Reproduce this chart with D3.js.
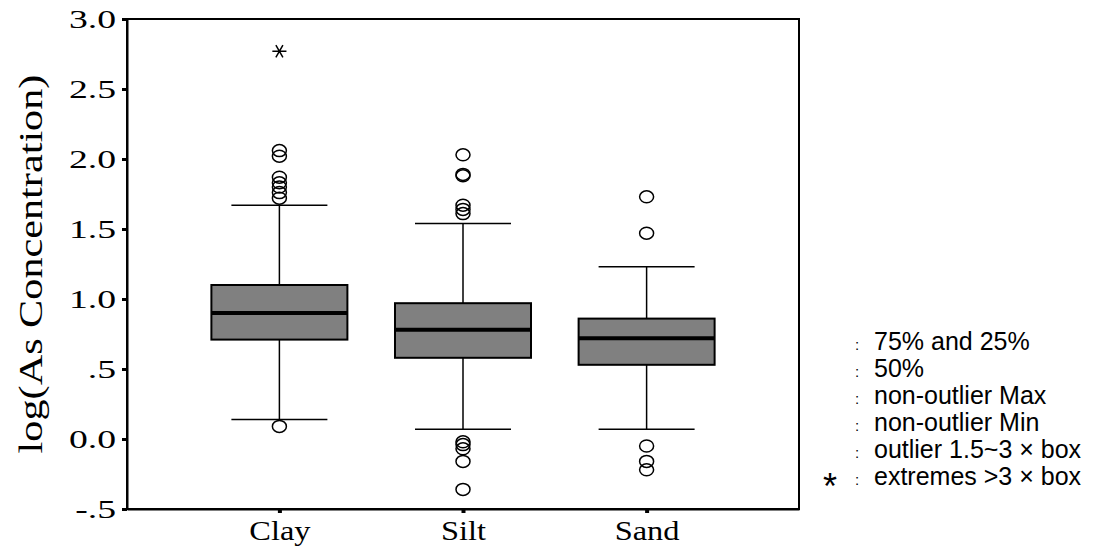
<!DOCTYPE html>
<html>
<head>
<meta charset="utf-8">
<script src="https://cdn.jsdelivr.net/npm/d3@7"></script>
<style>
  body { margin: 0; background: #fff; }
  svg { display: block; }
</style>
</head>
<body>
<svg id="chart" width="1096" height="550"></svg>
<script>
// values
var categories = ["Clay", "Silt", "Sand"];
var q1 = [0.71, 0.58, 0.53];
var median = [0.90, 0.78, 0.72];
var q3 = [1.10, 0.97, 0.86];
var whiskerLow = [0.14, 0.07, 0.07];
var whiskerHigh = [1.67, 1.54, 1.23];
var outliers = [
  [2.06, 2.02, 1.87, 1.83, 1.80, 1.76, 1.72, 0.09],
  [2.03, 1.89, 1.88, 1.67, 1.64, 1.61, -0.02, -0.04, -0.07, -0.16, -0.36],
  [1.73, 1.47, -0.05, -0.16, -0.22]
];
var extremes = [[2.77], [], []];
var yTicks = [3.0, 2.5, 2.0, 1.5, 1.0, 0.5, 0.0, -0.5];
var yTickLabels = ["3.0", "2.5", "2.0", "1.5", "1.0", ".5", "0.0", "-.5"];
var legendLabels = ["75% and 25%", "50%", "non-outlier Max", "non-outlier Min",
                    "outlier 1.5~3 \u00d7 box", "extremes >3 \u00d7 box"];

var plotLeft = 127, plotRight = 799, plotTop = 19, plotBottom = 509;
var boxWidth = 136, capWidth = 96;
var stretch = 1.45;  // the reference tick text is wide

var svg = d3.select("#chart");

var x = d3.scalePoint()
    .domain(categories)
    .range([plotLeft, plotRight])
    .padding(0.83);

var y = d3.scaleLinear()
    .domain([-0.5, 3.0])
    .range([plotBottom, plotTop]);

var serif = "'Liberation Serif', 'Times New Roman', serif";
var sans = "'Liberation Sans', Arial, sans-serif";

// frame
svg.append("rect")
    .attr("x", plotLeft).attr("y", plotTop)
    .attr("width", plotRight - plotLeft).attr("height", plotBottom - plotTop)
    .attr("fill", "none").attr("stroke", "#000").attr("stroke-width", 2);

// y axis
var yAxis = svg.append("g")
    .attr("transform", "translate(" + plotLeft + ",0)")
    .call(d3.axisLeft(y).tickValues(yTicks)
      .tickFormat(function(d, i) { return yTickLabels[i]; })
      .tickSizeInner(5).tickSizeOuter(0));
yAxis.select(".domain").attr("stroke", "#000").attr("stroke-width", 2);
yAxis.selectAll(".tick line").attr("stroke", "#000").attr("stroke-width", 3);
yAxis.selectAll(".tick text")
    .attr("x", -11 / stretch)
    .attr("transform", "scale(" + stretch + ",1)")
    .attr("font-family", serif).attr("font-size", 26).attr("fill", "#000");

// x axis
var xAxis = svg.append("g")
    .attr("transform", "translate(0," + plotBottom + ")")
    .call(d3.axisBottom(x).tickSizeInner(4).tickSizeOuter(0).tickPadding(8));
xAxis.select(".domain").attr("stroke", "#000").attr("stroke-width", 2);
xAxis.selectAll(".tick line").attr("stroke", "#000").attr("stroke-width", 4);
xAxis.selectAll(".tick text")
    .attr("transform", "scale(1.2,1)")
    .attr("font-family", serif).attr("font-size", 27).attr("fill", "#000");

// y title
svg.append("text")
    .attr("transform", "translate(42,264) rotate(-90) scale(1.28,1)")
    .attr("text-anchor", "middle")
    .attr("font-family", serif).attr("font-size", 33)
    .text("log(As Concentration)");

// boxes
var groups = svg.selectAll(".box")
    .data(categories)
  .enter()
    .append("g")
    .attr("class", "box");

groups.each(function(c, i) {
  var g = d3.select(this);
  var cx = x(c);

  // whiskers
  g.append("line")
      .attr("x1", cx).attr("x2", cx)
      .attr("y1", y(q3[i])).attr("y2", y(whiskerHigh[i]))
      .attr("stroke", "#000").attr("stroke-width", 1.5);
  g.append("line")
      .attr("x1", cx).attr("x2", cx)
      .attr("y1", y(q1[i])).attr("y2", y(whiskerLow[i]))
      .attr("stroke", "#000").attr("stroke-width", 1.5);
  [whiskerHigh[i], whiskerLow[i]].forEach(function(v) {
    g.append("line")
        .attr("x1", cx - capWidth / 2).attr("x2", cx + capWidth / 2)
        .attr("y1", y(v)).attr("y2", y(v))
        .attr("stroke", "#000").attr("stroke-width", 1.5);
  });

  // box
  g.append("rect")
      .attr("x", cx - boxWidth / 2).attr("width", boxWidth)
      .attr("y", y(q3[i])).attr("height", y(q1[i]) - y(q3[i]))
      .attr("fill", "#808080").attr("stroke", "#000").attr("stroke-width", 2);

  // median
  g.append("line")
      .attr("x1", cx - boxWidth / 2).attr("x2", cx + boxWidth / 2)
      .attr("y1", y(median[i])).attr("y2", y(median[i]))
      .attr("stroke", "#000").attr("stroke-width", 4);

  // outliers
  g.selectAll(".outlier")
      .data(outliers[i])
    .enter()
      .append("ellipse")
      .attr("class", "outlier")
      .attr("cx", cx).attr("cy", function(d) { return y(d); })
      .attr("rx", 7).attr("ry", 6)
      .attr("fill", "none").attr("stroke", "#000").attr("stroke-width", 1.5);

  // extremes
  g.selectAll(".extreme")
      .data(extremes[i])
    .enter()
      .append("path")
      .attr("class", "extreme")
      .attr("transform", function(d) { return "translate(" + cx + "," + y(d) + ") rotate(90)"; })
      .attr("d", d3.symbol().type(d3.symbolAsterisk).size(140))
      .attr("fill", "none").attr("stroke", "#000").attr("stroke-width", 1.5);
});

// legend
var legend = svg.selectAll(".legend")
    .data(legendLabels)
  .enter()
    .append("g")
    .attr("class", "legend")
    .attr("transform", function(d, i) { return "translate(0," + (350 + i * 27) + ")"; });

legend.append("text")
    .attr("x", 855)
    .attr("font-family", sans).attr("font-size", 15)
    .text(":");

legend.append("text")
    .attr("x", 874)
    .attr("font-family", sans).attr("font-size", 25)
    .text(function(d) { return d; });

svg.append("text")
    .attr("x", 830).attr("y", 499)
    .attr("text-anchor", "middle")
    .attr("font-family", sans).attr("font-size", 36)
    .text("*");
</script>
</body>
</html>
